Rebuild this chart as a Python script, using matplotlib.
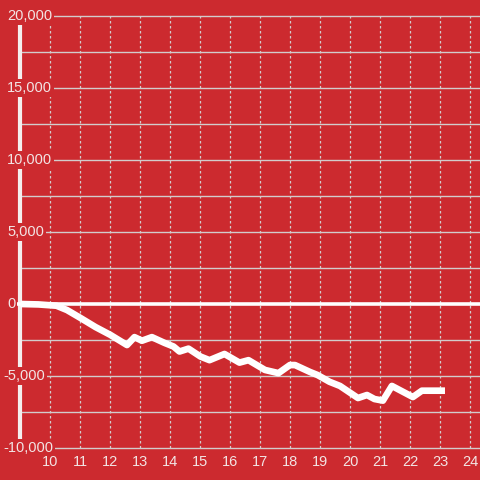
import matplotlib
matplotlib.use("Agg")
import matplotlib.pyplot as plt

# series
x_vals = [9.0, 9.6, 10.2, 10.55, 11.0, 11.5, 12.0, 12.55, 12.8, 13.05, 13.38, 13.8,
          14.1, 14.3, 14.6, 15.0, 15.3, 15.8, 16.3, 16.6, 17.15, 17.6, 17.98, 18.15,
          18.65, 18.9, 19.3, 19.65, 20.25, 20.55, 20.8, 21.08, 21.38, 22.08, 22.38, 23.15]
y_vals = [0, -30, -120, -420, -970, -1600, -2150, -2850, -2300, -2550, -2300, -2700,
          -2950, -3300, -3100, -3650, -3900, -3470, -4070, -3900, -4580, -4800, -4240, -4240,
          -4720, -4930, -5400, -5690, -6530, -6320, -6600, -6710, -5690, -6460, -6020, -6020]

y_ticks = [-10000, -5000, 0, 5000, 10000, 15000, 20000]
y_grid = [-10000, -7500, -5000, -2500, 2500, 5000, 7500, 10000, 12500, 15000, 17500, 20000]
x_ticks = list(range(10, 25))

bg = "#cc2a2f"
txt = "#f2e4e4"
grid = "#d2cccc"

plt.rcParams['font.family'] = ['Liberation Sans', 'DejaVu Sans']

fig = plt.figure(figsize=(4.8, 4.8), dpi=100, facecolor=bg)
ax = fig.add_axes([0, 0, 1, 1])
ax.set_facecolor(bg)
x0, x1 = 8.317, 24.317
ax.set_xlim(x0, x1)
ax.set_ylim(-12222, 21111)
ax.axis("off")

for g in y_grid:
    ax.hlines(g, 9.0, x1, color=grid, lw=1, zorder=1)
for t in x_ticks:
    ax.vlines(t, -10000, 20000, color=grid, lw=0.9, linestyles=(0, (2, 2)), zorder=1)

# y axis bar and zero line
ax.vlines(9.0, -10000, 20000, color="#f4eeee", lw=3, zorder=2)
ax.hlines(0, 8.9, x1, color="white", lw=2.6, zorder=2)

ax.plot(x_vals, y_vals, color="white", lw=4.8, solid_joinstyle="round",
        solid_capstyle="butt", zorder=3)

for t in y_ticks:
    left = x0 + (7 if t >= 0 else 3) / 30
    ax.text(left, t, f"{t:,}", ha="left", va="center", color=txt, fontsize=10.5,
            zorder=4, bbox=dict(facecolor=bg, edgecolor="none", pad=1.5))
for t in x_ticks:
    ax.text(t, -11000, str(t), ha="center", va="center", color=txt, fontsize=10.5, zorder=4)

fig.savefig("out.png", dpi=100, facecolor=bg)
